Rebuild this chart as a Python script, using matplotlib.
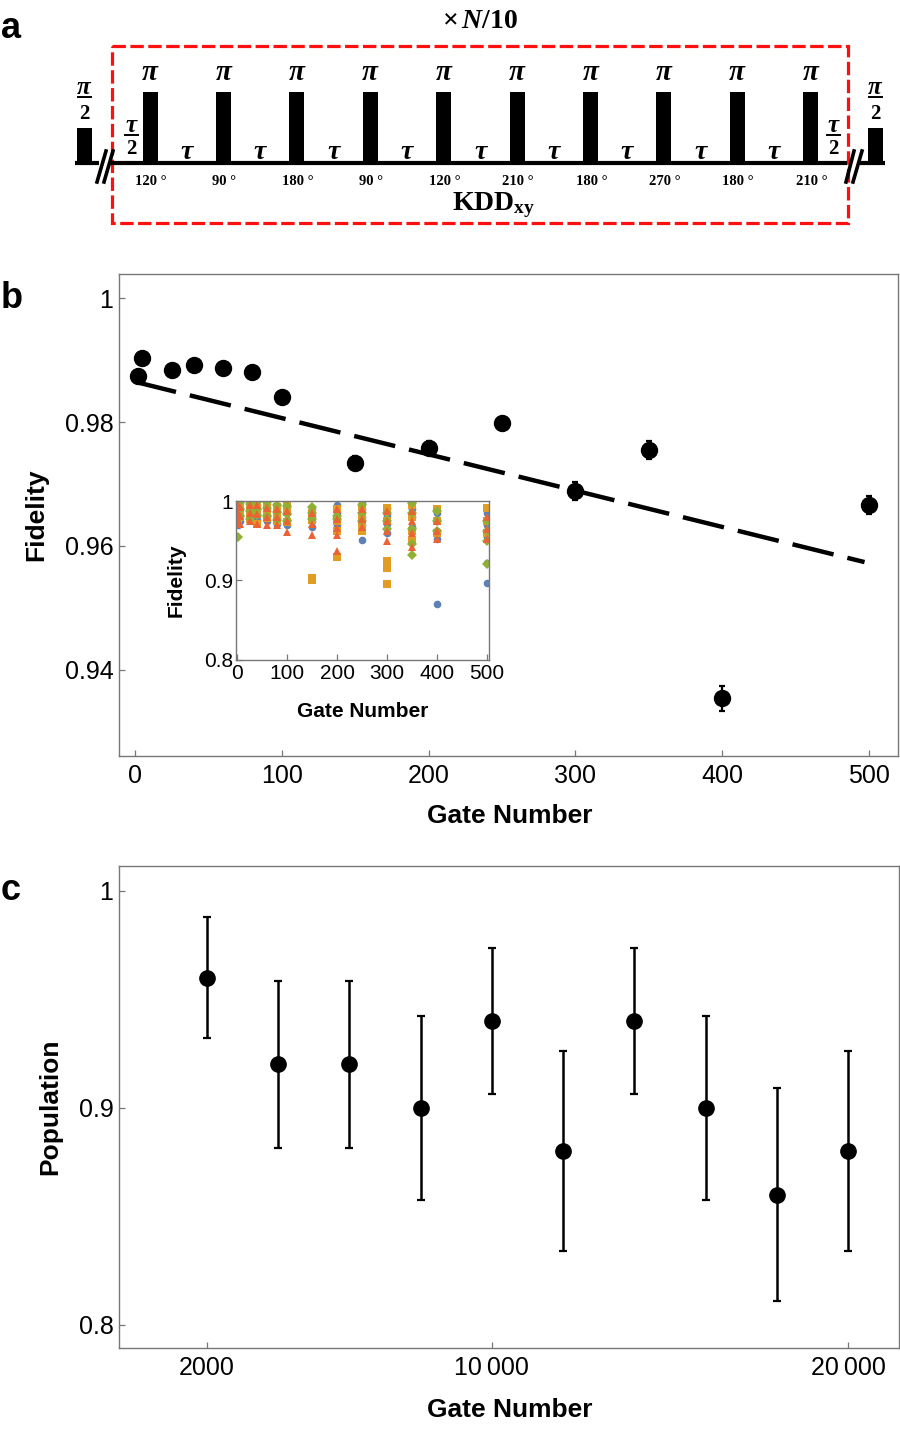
import numpy as np
import matplotlib
matplotlib.use("Agg")
import matplotlib.pyplot as plt
from matplotlib.patches import Rectangle

plt.rcParams['font.family'] = ['Liberation Sans', 'DejaVu Sans']
plt.rcParams['mathtext.fontset'] = 'custom'
plt.rcParams['mathtext.rm'] = 'Liberation Serif:bold'
plt.rcParams['mathtext.bf'] = 'Liberation Serif:bold'
plt.rcParams['mathtext.it'] = 'Liberation Serif:italic:bold'

# ---- panel a: KDDxy pulse sequence ----
angles = [120, 90, 180, 90, 120, 210, 180, 270, 180, 210]

# ---- panel b: mean fidelity vs gate number ----
gates_b = [2, 5, 25, 40, 60, 80, 100, 150, 200, 250, 300, 350, 400, 500]
fid_b = [0.9874, 0.9903, 0.9884, 0.9892, 0.9887, 0.9881, 0.9840,
         0.9734, 0.9758, 0.9798, 0.9689, 0.9755, 0.9354, 0.9666]
err_b = [0.0005, 0.0005, 0.0005, 0.0005, 0.0005, 0.0005, 0.0006,
         0.0012, 0.0011, 0.0010, 0.0015, 0.0014, 0.0020, 0.0015]
fit_x = [0, 497]
fit_y = [0.9865, 0.9574]

# inset: individual fidelities, one list per gate number (same order as gates_b)
blue_vals = [[0.998, 0.993, 0.985, 0.978, 0.970], [0.999, 0.990, 0.982, 0.975],
             [0.995, 0.988, 0.980, 0.976], [0.996, 0.990, 0.983, 0.977],
             [0.997, 0.989, 0.981, 0.975], [0.994, 0.986, 0.979, 0.972],
             [0.993, 0.985, 0.976, 0.970], [0.990, 0.982, 0.975, 0.968],
             [0.995, 0.985, 0.977, 0.970], [0.998, 0.990, 0.980, 0.970, 0.951],
             [0.992, 0.983, 0.972, 0.960], [0.999, 0.990, 0.980, 0.968],
             [0.985, 0.975, 0.962, 0.952, 0.870], [0.985, 0.970, 0.955, 0.922, 0.897]]
orange_vals = [[0.999, 0.990, 0.981, 0.975], [0.997, 0.988, 0.980],
               [0.996, 0.985, 0.978], [0.995, 0.984, 0.972],
               [0.994, 0.986, 0.979], [0.993, 0.983, 0.975],
               [0.997, 0.986, 0.974], [0.985, 0.976, 0.903, 0.900],
               [0.990, 0.975, 0.962, 0.930], [0.993, 0.980, 0.970, 0.962],
               [0.992, 0.975, 0.925, 0.916, 0.896], [0.995, 0.980, 0.962, 0.950],
               [0.990, 0.975, 0.960], [0.992, 0.975, 0.960]]
green_vals = [[0.998, 0.988, 0.979, 0.955], [0.999, 0.990, 0.982],
              [0.997, 0.988, 0.978], [0.999, 0.991, 0.983],
              [0.999, 0.992, 0.982], [0.996, 0.987, 0.977],
              [0.994, 0.984, 0.975], [0.993, 0.985, 0.978],
              [0.982, 0.978], [0.995, 0.985, 0.975],
              [0.985, 0.975, 0.965], [0.998, 0.985, 0.965, 0.946, 0.932],
              [0.988, 0.975, 0.962], [0.975, 0.962, 0.950, 0.921]]
red_vals = [[0.995, 0.985, 0.975], [0.993, 0.982, 0.972],
            [0.995, 0.985, 0.975], [0.996, 0.984, 0.972],
            [0.992, 0.980, 0.970], [0.990, 0.980, 0.970],
            [0.988, 0.975, 0.961], [0.985, 0.972, 0.957],
            [0.990, 0.978, 0.966, 0.957, 0.937], [0.990, 0.978, 0.968],
            [0.988, 0.975, 0.962, 0.950], [0.988, 0.975, 0.960, 0.942],
            [0.975, 0.962, 0.952], [0.980, 0.965, 0.952]]

# ---- panel c: population at long sequences ----
gates_c = [2000, 4000, 6000, 8000, 10000, 12000, 14000, 16000, 18000, 20000]
pop_c = [0.96, 0.92, 0.92, 0.90, 0.94, 0.88, 0.94, 0.90, 0.86, 0.88]
err_c = [0.0277, 0.0384, 0.0384, 0.0424, 0.0336, 0.0460, 0.0336, 0.0424, 0.0491, 0.0460]

W, H = 900, 1430
fig = plt.figure(figsize=(W / 100, H / 100), dpi=100)


def box(l, t, r, b):
    return [l / W, 1 - b / H, (r - l) / W, (b - t) / H]


def style(ax, fs):
    for s in ax.spines.values():
        s.set_color('#777777')
        s.set_linewidth(1.0)
    ax.tick_params(direction='in', length=4.5, width=0.9, color='#777777',
                   labelsize=fs, top=False, right=False)
    ax.tick_params(axis='x', pad=6)
    ax.tick_params(axis='y', pad=4)


# panel a
axa = fig.add_axes([0, 1 - 232 / H, 1, 232 / H])
axa.set_xlim(0, W)
axa.set_ylim(232, 0)
axa.axis('off')
base = 163
x0, dx, pw = 150, 73.4, 15
serif = dict(family=['Liberation Serif', 'DejaVu Serif'], weight='bold')
centers = [x0 + i * dx for i in range(len(angles))]
for c, a in zip(centers, angles):
    axa.add_patch(Rectangle((c - pw / 2, 92), pw, base - 92, color='k', lw=0))
    axa.text(c, 80, 'π', ha='center', va='baseline', fontsize=21, style='italic', **serif)
    axa.text(c + 1, 185, f'{a} °', ha='center', va='baseline', fontsize=10.5, **serif)
for c1, c2 in zip(centers[:-1], centers[1:]):
    axa.text((c1 + c2) / 2, 159, 'τ', ha='center', va='baseline', fontsize=20, style='italic', **serif)
# half pulses
for xl in (77, 868):
    axa.add_patch(Rectangle((xl, 128), 15, base - 128, color='k', lw=0))


def frac(x, ybar, top, ytop, ybot):
    axa.text(x, ytop, top, ha='center', va='baseline', fontsize=18, style='italic', **serif)
    axa.plot([x - 6.5, x + 6.5], [ybar, ybar], color='k', lw=1.4)
    axa.text(x, ybot, '2', ha='center', va='baseline', fontsize=15, **serif)


frac(84, 97, 'π', 94, 119)
frac(875, 97, 'π', 94, 119)
frac(131, 134.5, 'τ', 132, 154)
frac(833, 134.5, 'τ', 132, 154)

for seg in ([75, 99], [111, 847], [860, 885]):
    axa.plot(seg, [base, base], color='k', lw=3, solid_capstyle='butt')
for xs in ([97, 106], [104, 113], [846, 854], [853, 862]):
    axa.plot(xs, [182, 151], color='k', lw=2.6)

axa.add_patch(Rectangle((112, 46), 736, 177, fill=False, edgecolor='#ff1010',
                        lw=2.3, linestyle=(0, (4.2, 1.4))))
axa.text(480, 28, r'$\times\,N/10$', ha='center', va='baseline', fontsize=20)
axa.text(494, 210, r'$\mathrm{KDD}_{\mathrm{xy}}$', ha='center', va='baseline', fontsize=20)

# panel b
axb = fig.add_axes(box(119, 274, 898, 756))
axb.errorbar(gates_b, fid_b, yerr=err_b, fmt='o', color='k', ms=11.5,
             elinewidth=1.6, capsize=2.5, capthick=1.6)
axb.plot(fit_x, fit_y, color='k', lw=3.2, dashes=(9.5, 3.2))
axb.set_xlim(-10.9, 519.8)
axb.set_ylim(0.9261, 1.0039)
axb.set_xticks([0, 100, 200, 300, 400, 500])
axb.set_yticks([0.94, 0.96, 0.98, 1.0])
axb.set_yticklabels(['0.94', '0.96', '0.98', '1'])
style(axb, 18)

# inset
axi = fig.add_axes(box(236, 501, 489, 660))
pal = [('#5E81B5', 'o', blue_vals), ('#E19C24', 's', orange_vals),
       ('#8FB032', 'D', green_vals), ('#EB6235', '^', red_vals)]
for col, mk, vals in pal:
    xs = [g for g, v in zip(gates_b, vals) for _ in v]
    ys = [y for v in vals for y in v]
    axi.plot(xs, ys, mk, color=col, ms=5.5 if mk != 'D' else 5.0, mew=0, ls='none')
axi.set_xlim(-2.6, 504.6)
axi.set_ylim(0.7995, 1.0005)
axi.set_xticks([0, 100, 200, 300, 400, 500])
axi.set_yticks([0.8, 0.9, 1.0])
axi.set_yticklabels(['0.8', '0.9', '1'])
style(axi, 15)
axi.tick_params(axis='x', pad=3)
axi.tick_params(axis='y', pad=2)
fig.text(363 / W, 1 - 711 / H, 'Gate Number', ha='center', va='center', fontsize=15, weight='bold')
fig.text(176 / W, 1 - 580 / H, 'Fidelity', ha='center', va='center', fontsize=15, weight='bold', rotation=90)

# panel c
axc = fig.add_axes(box(119, 866, 899, 1348))
axc.errorbar(gates_c, pop_c, yerr=err_c, fmt='o', color='k', ms=11,
             elinewidth=1.8, capsize=3, capthick=1.6)
axc.set_xlim(-471, 21432)
axc.set_ylim(0.7893, 1.0114)
axc.set_xticks([2000, 10000, 20000])
axc.set_xticklabels(['2000', '10\u2009000', '20\u2009000'])
axc.set_yticks([0.8, 0.9, 1.0])
axc.set_yticklabels(['0.8', '0.9', '1'])
style(axc, 18)

# axis labels and panel letters
fig.text(510 / W, 1 - 816 / H, 'Gate Number', ha='center', va='center', fontsize=19, weight='bold')
fig.text(36 / W, 1 - 515 / H, 'Fidelity', ha='center', va='center', fontsize=19, weight='bold', rotation=90)
fig.text(510 / W, 1 - 1410 / H, 'Gate Number', ha='center', va='center', fontsize=19, weight='bold')
fig.text(50 / W, 1 - 1107 / H, 'Population', ha='center', va='center', fontsize=19, weight='bold', rotation=90)
for lab, yy in (('a', 28), ('b', 298), ('c', 890)):
    fig.text(1 / W, 1 - yy / H, lab, ha='left', va='center', fontsize=26, weight='bold')

fig.savefig('out.png', dpi=100)
